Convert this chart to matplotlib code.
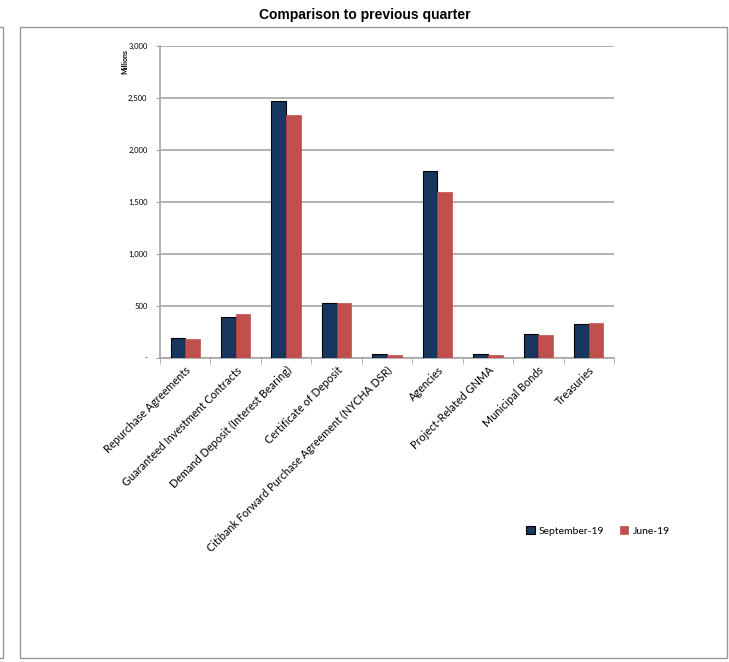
import matplotlib.pyplot as plt
import numpy as np
from matplotlib.patches import Rectangle
from matplotlib.ticker import FuncFormatter

# 数据（单位：百万）
categories = ['Repurchase Agreements', 'Guaranteed Investment Contracts',
              'Demand Deposit (Interest Bearing)', 'Certificate of Deposit',
              'Citibank Forward Purchase Agreement (NYCHA DSR)', 'Agencies',
              'Project-Related GNMA', 'Municipal Bonds', 'Treasuries']
sep19 = [190, 388, 2472, 528, 36, 1797, 36, 225, 324]
jun19 = [176, 422, 2334, 522, 29, 1595, 26, 223, 334]
series_names = ['September-19', 'June-19']

W, H = 729, 662
fig = plt.figure(figsize=(W / 100, H / 100), dpi=100)

# 外框
fig.patches.append(Rectangle((20 / W, 1 - 658 / H), 707 / W, 631 / H, transform=fig.transFigure,
                             fill=False, edgecolor='#999999', linewidth=1.0))
fig.patches.append(Rectangle((-10 / W, 1 - 658 / H), 13 / W, 631 / H, transform=fig.transFigure,
                             fill=False, edgecolor='#999999', linewidth=1.0))

ax = fig.add_axes([160 / W, 1 - 357.7 / H, 454 / W, 311.7 / H])

x = np.arange(len(categories))
bw = 0.29
ax.bar(x - bw / 2, sep19, width=bw, color='#17375E', edgecolor='black', linewidth=0.8,
       label=series_names[0], zorder=3)
ax.bar(x + bw / 2, jun19, width=bw, color='#C0504D', edgecolor='#C0504D', linewidth=0.5,
       label=series_names[1], zorder=3)

ax.set_xlim(-0.5, len(categories) - 0.5)
ax.set_ylim(0, 3000)
ax.set_yticks(np.arange(0, 3001, 500))
ax.yaxis.set_major_formatter(FuncFormatter(lambda v, p: '-' if v == 0 else f'{int(v):,}'))
ax.grid(axis='y', color='#a6a6a6', linewidth=1.2, zorder=0)

for s in ['top', 'right']:
    ax.spines[s].set_visible(False)
ax.spines['left'].set_color('#a6a6a6')
ax.spines['bottom'].set_color('#a6a6a6')
ax.spines['left'].set_linewidth(1.2)
ax.spines['bottom'].set_linewidth(1.2)

ax.tick_params(axis='y', length=3, color='#a6a6a6', labelsize=5.5, pad=6, labelfontfamily='Lato')
ax.set_xticks(x)
ax.set_xticks(np.arange(-0.5, len(categories)), minor=True)
ax.tick_params(axis='x', which='major', length=0, pad=5)
ax.tick_params(axis='x', which='minor', length=4, color='#a6a6a6')
ax.set_xticklabels(categories, rotation=45, ha='right', rotation_mode='anchor',
                   fontsize=7.8, family='Lato')

fig.text(125 / W, 1 - 61 / H, 'Millions', rotation=90, fontsize=5, fontweight='bold',
         family='Lato', ha='center', va='center')

fig.suptitle('Comparison to previous quarter', x=0.5, y=1 - 14.5 / H, va='center',
             fontsize=10, fontweight='bold', family='Liberation Sans')

fig.legend(loc='center', bbox_to_anchor=(598 / W, 1 - 531 / H), ncol=2, frameon=False,
           prop={'family': 'Lato', 'size': 7.5}, handlelength=0.8, handleheight=0.8,
           handletextpad=0.4, columnspacing=1.5)

fig.savefig('out.png', dpi=100)
